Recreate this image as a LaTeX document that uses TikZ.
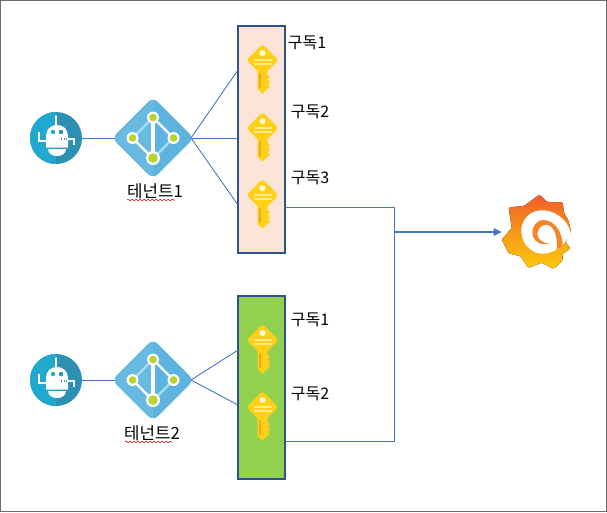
\documentclass[tikz,border=0pt]{standalone}
\usepackage{fontspec}
\setmainfont{Noto Sans CJK KR}
\usetikzlibrary{arrows.meta,decorations.pathmorphing,shapes.geometric}
\definecolor{linkblue}{HTML}{4472C4}
\definecolor{boxblue}{HTML}{2F528F}
\definecolor{peach}{HTML}{FBE5D6}
\definecolor{leaf}{HTML}{92D050}
\definecolor{keygold}{HTML}{FFD015}
\definecolor{keylight}{HTML}{FFEB8A}
\definecolor{keydark}{HTML}{F5A623}
\definecolor{aad}{HTML}{5DB5DF}
\definecolor{aadlight}{HTML}{A9DAEF}
\definecolor{dot}{HTML}{B9D52B}
\definecolor{robl}{HTML}{1FA9CE}
\definecolor{robr}{HTML}{2B90B2}
\definecolor{grafa}{HTML}{F15B2A}
\definecolor{grafb}{HTML}{FBCA0A}
\definecolor{grafc}{HTML}{F6852A}
\tikzset{
  x=0.75pt,y=-0.75pt,
  link/.style={draw=linkblue,line width=0.65pt},
  subbox/.style={draw=boxblue,line width=1.4pt,minimum width=47*0.75pt,minimum height=10pt,inner sep=0pt,rectangle},
  lbl/.style={font=\fontsize{12pt}{13pt}\selectfont,text=black,inner sep=0pt},
  tenlbl/.style={font=\fontsize{12.6pt}{14pt}\selectfont,text=black,inner sep=0pt},
  wavy/.style={red!80!black,line width=0.4pt,decorate,decoration={snake,amplitude=0.6pt,segment length=3pt}},
  anchorpt/.style={circle,inner sep=0pt,minimum size=0pt},
  keyicon/.pic={
    \fill[keygold,rounded corners=2.5pt] (0,-16)--(16,0)--(0,16)--(-16,0)--cycle;
    \fill[keygold] (-5,8)--(5,8)--(5,15)--(7.5,17)--(5.5,19.5)--(7.5,22)--(5.5,24.5)--(7.5,27)--(5,29)--(0,33.5)--(-5,29)--cycle;
    \fill[white!70!keylight] (0,-7) circle (3);
    \draw[keylight,line width=0.9pt] (-9,0)--(9,0) (-9,4)--(9,4);
    \draw[keydark,line width=0.9pt] (-2.5,13)--(-2.5,28);
  },
  roboticon/.pic={
    \fill[robr] (0,0) circle (26);
    \begin{scope}
      \clip (-27,-27) rectangle (0,27);
      \fill[robl] (0,0) circle (26);
    \end{scope}
    \fill[white] (-8,11)--(10,11) .. controls (10,16) and (5,18) .. (1,18) .. controls (-3,18) and (-8,16) .. (-8,11) -- cycle;
    \fill[white] (-10,9.5)--(-10,-2) .. controls (-10,-9) and (-5,-13) .. (1,-13) .. controls (7,-13) and (12,-9) .. (12,-2)--(12,9.5)--cycle;
    \fill[robl] (-3,-6) circle (2.2);
    \fill[robr] (5,-6) circle (2.2);
    \draw[robr,line width=0.9pt,densely dotted] (5,1)--(12,1);
    \draw[white,line width=0.9pt] (0,-12)--(0,-22);
    \fill[white] (0,-22) circle (0.9);
    \draw[white,line width=1pt] (-9,3)--(-17,3)--(-17,-6)
      (12,1)--(18,1)--(18,7);
  },
  aadicon/.pic={
    \fill[aad,rounded corners=5pt] (0,-41)--(41,0)--(0,41)--(-41,0)--cycle;
    \fill[white,opacity=0.08] (0,-39)--(-39,0)--(0,39)--cycle;
    \draw[aadlight,line width=1.8pt] (-20.5,0)--(0,-20.5) (20.5,0)--(0,20.5);
    \draw[white,line width=1.8pt] (-20.5,0)--(0,20.5) (20.5,0)--(0,-20.5);
    \draw[white,line width=2.6pt] (0,-20.5)--(0,20.5);
    \foreach \p/\r in {{(0,-20.5)}/6,{(0,20)}/7,{(-20.5,0)}/6,{(20.5,0)}/6}{
      \fill[white] \p circle (\r);
      \fill[dot] \p circle (\r-2.2);
    }
  },
}
\begin{document}
\begin{tikzpicture}
\useasboundingbox (0,0) rectangle (607,512);
\draw[gray!85!black,line width=0.6pt] (0.5,0.5)--(606,0.5)--(606,511.5)--(0.5,511.5)--cycle;

% subscription boxes
\node[subbox,fill=peach,minimum height=227*0.75pt] (box1) at (261.5,139.5) {};
\node[subbox,fill=leaf,minimum height=183*0.75pt] (box2) at (261.5,387.5) {};

% anchors
\node[anchorpt] (rob1) at (56,138) {};
\node[anchorpt] (rob2) at (56,380) {};
\node[anchorpt] (ten1) at (153,138) {};
\node[anchorpt] (ten2) at (153,380) {};
\coordinate (in11) at (238,70);
\coordinate (in12) at (238,138);
\coordinate (in13) at (238,205);
\coordinate (in21) at (238,350);
\coordinate (in22) at (238,405);
\coordinate (ten1r) at (191,138);
\coordinate (ten2r) at (191,380);
\coordinate (out1) at (285,207);
\coordinate (out2) at (285,441);
\coordinate (busa) at (394,207);
\coordinate (busb) at (394,441);
\coordinate (busm) at (394,232);
\node[anchorpt] (graf) at (502,232) {};

% connectors
\draw[link] (rob1) -- (ten1);
\draw[link] (rob2) -- (ten2);
\draw[link] (ten1r) -- (in11);
\draw[link] (ten1r) -- (in12);
\draw[link] (ten1r) -- (in13);
\draw[link] (ten2r) -- (in21);
\draw[link] (ten2r) -- (in22);
\draw[link] (out1) -- (busa) -- (busb) -- (out2);
\draw[draw=linkblue,line width=1.1pt,-{Triangle[length=6pt,width=5.5pt]}] (busm) -- (graf);

% icons
\pic at (56,138) {roboticon};
\pic at (56,380) {roboticon};
\pic at (153,138) {aadicon};
\pic at (153,380) {aadicon};
\pic at (262.5,60) {keyicon};
\pic at (262.5,128) {keyicon};
\pic at (262.5,195) {keyicon};
\pic at (262.5,340) {keyicon};
\pic at (262.5,407) {keyicon};

% grafana logo (local coordinates: 3 units per pixel)
\begin{scope}[shift={(500,192)},x=0.25pt,y=-0.25pt]
\fill[top color=grafa,bottom color=grafb,middle color=grafa!45!grafb,rounded corners=1pt]
  (118,8)--(142,30)--(188,31)--(192,62)--(205,85)--(214,122)--(196,148)--(211,170)--(188,186)--(188,205)--(161,231)
  --(125,212)--(85,228)--(62,193)--(26,184)--(5,143)--(35,108)--(26,46)--(72,42)--cycle;
\end{scope}
\begin{scope}[shift={(500,192)},x=0.25pt,y=-0.25pt]
\path[fill=white]
  (213,128) .. controls (205,80) and (160,52) .. (120,55)
  .. controls (80,58) and (62,95) .. (64,120)
  .. controls (66,160) and (100,187) .. (130,185)
  .. controls (165,183) and (190,160) .. (198,145) -- cycle;
\path[fill=grafc]
  (188,162) .. controls (188,115) and (160,84) .. (130,84)
  .. controls (105,85) and (96,110) .. (97,125)
  .. controls (99,148) and (125,162) .. (146,155)
  .. controls (125,152) and (111,140) .. (112,125)
  .. controls (114,105) and (130,97) .. (140,98)
  .. controls (158,100) and (174,125) .. (170,172) -- cycle;
\end{scope}

% labels
\node[tenlbl] (t1) at (155,191.5) {테넌트1};
\node[tenlbl] (t2) at (152,433.5) {테넌트2};
\draw[wavy] (127,200)--(175,200);
\draw[wavy] (125,442)--(172,442);
\node[lbl] (s11) at (307,42.5) {구독1};
\node[lbl] (s12) at (310,111.5) {구독2};
\node[lbl] (s13) at (310,177.5) {구독3};
\node[lbl] (s21) at (310,319.5) {구독1};
\node[lbl] (s22) at (310,393.5) {구독2};
\end{tikzpicture}
\end{document}
